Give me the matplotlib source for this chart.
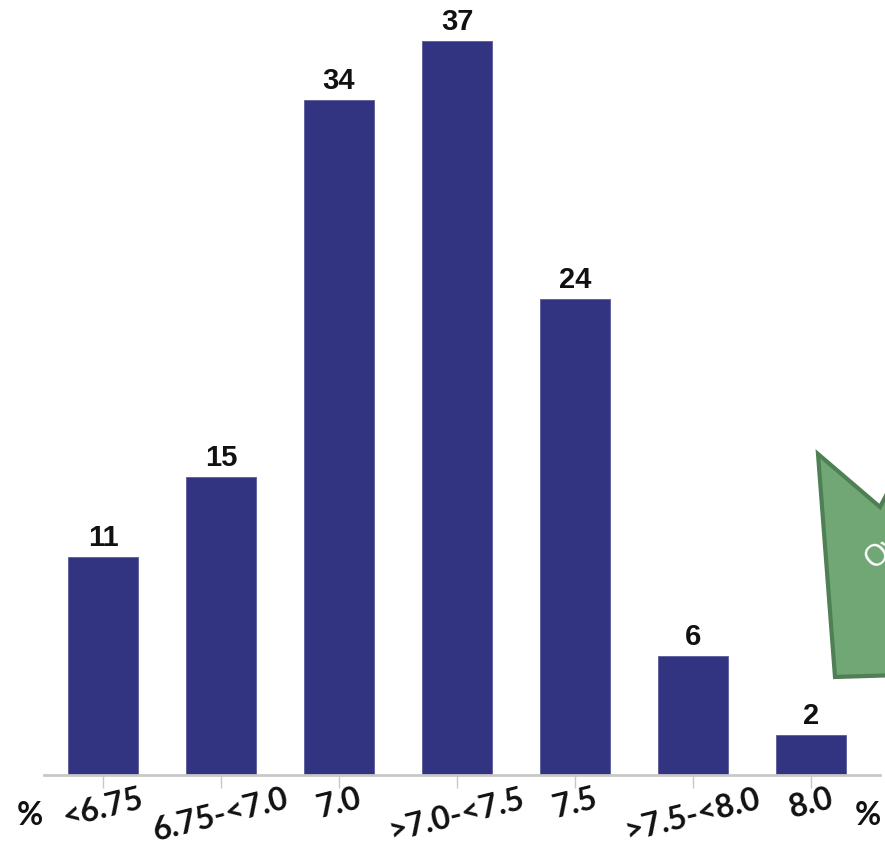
import matplotlib.pyplot as plt
from matplotlib.patches import Polygon

categories = ['<6.75', '6.75-<7.0', '7.0', '>7.0-<7.5', '7.5', '>7.5-<8.0', '8.0']
values = [11, 15, 34, 37, 24, 6, 2]

W, H = 885, 862
fig = plt.figure(figsize=(W / 100, H / 100), dpi=100)
ax = fig.add_axes([44 / W, (H - 776) / H, (880 - 44) / W, 776 / H])

x = list(range(len(categories)))
bars = ax.bar(x, values, width=0.593, color='#323381', edgecolor='#5a5b9c', linewidth=0.6, zorder=2)
ax.set_xlim(-0.5, 6.585)
ax.set_ylim(0, 39.1)

for b, v in zip(bars, values):
    ax.text(b.get_x() + b.get_width() / 2, v + 0.3, str(v), ha='center', va='bottom',
            fontsize=21, fontweight='bold', color='#111111', family='Liberation Sans')

for s in ['top', 'right', 'left']:
    ax.spines[s].set_visible(False)
ax.spines['bottom'].set_color('#c8c8c8')
ax.spines['bottom'].set_linewidth(2)
ax.set_yticks([])
ax.set_xticks(x)
ax.set_xticklabels([])
ax.tick_params(axis='x', length=9, width=1, color='#c8c8c8')

font = ['Lato', 'DejaVu Sans']
for i, lab in enumerate(categories):
    ax.text(i, -0.42, lab, ha='center', va='top', rotation=14, fontsize=23,
            family=font, fontweight='bold', color='#111111', clip_on=False)

fig.text(30 / W, 1 - 816 / H, '%', ha='center', va='center', fontsize=23,
         family=font, fontweight='bold', color='#111111')
fig.text(868 / W, 1 - 816 / H, '%', ha='center', va='center', fontsize=23,
         family=font, fontweight='bold', color='#111111')

# green callout shape on the right edge
pts = [(818, 455), (880, 508), (900, 470), (900, 676), (835, 678)]
poly = Polygon([(px / W, 1 - py / H) for px, py in pts], closed=True,
               facecolor='#70a775', edgecolor='#4f7f54', linewidth=3,
               transform=fig.transFigure, zorder=5)
fig.patches.append(poly)
fig.text(858 / W, 1 - 575 / H, 'Overall', color='white', fontsize=22, rotation=40,
         ha='left', va='bottom', family='Open Sans', zorder=6)

fig.savefig('out.png', dpi=100)
